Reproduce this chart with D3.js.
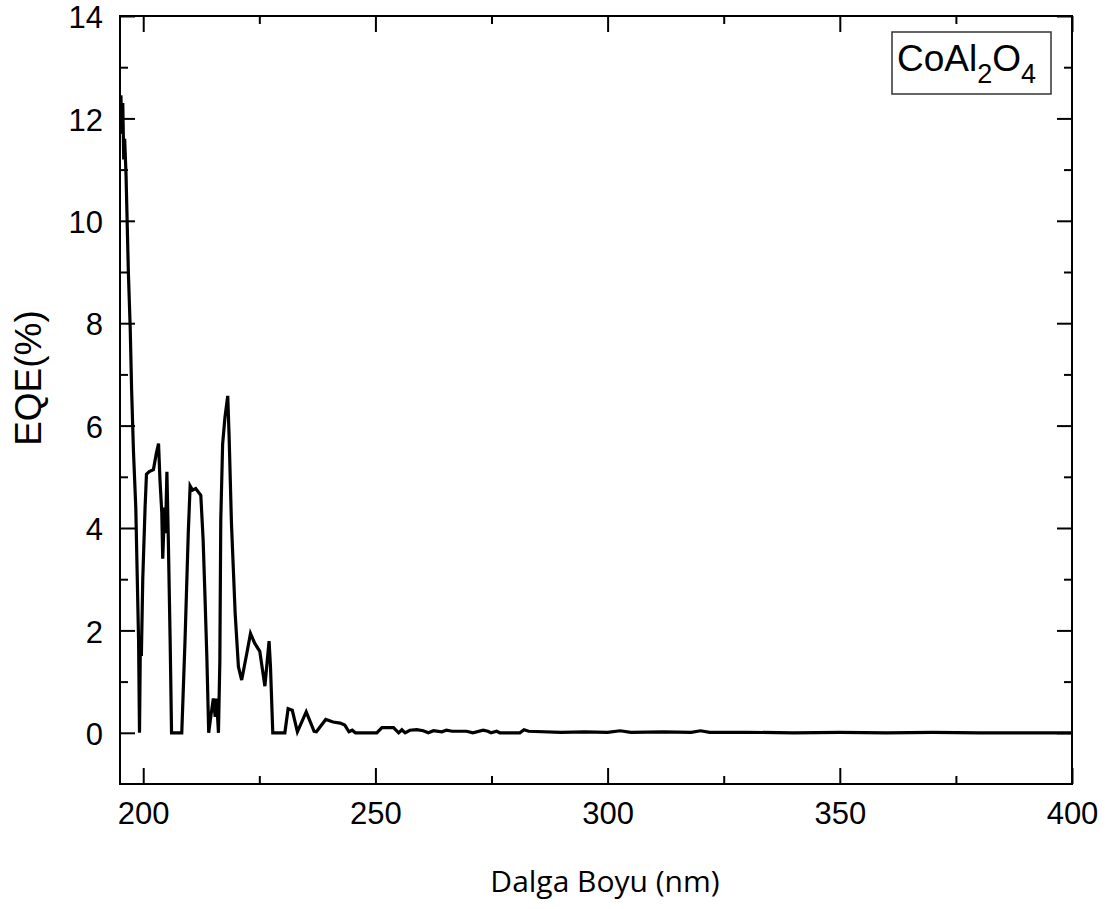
<!DOCTYPE html>
<html>
<head>
<meta charset="utf-8">
<script src="https://cdn.jsdelivr.net/npm/d3@7"></script>
<style>
  html, body { margin: 0; padding: 0; background: #fff; }
  svg { display: block; }
  .tick text { font-family: "Liberation Sans", Arial, sans-serif; font-size: 31px; fill: #000; }
</style>
</head>
<body>
<svg id="chart" width="1111" height="909"></svg>
<script>
// Wavelength (nm) and external quantum efficiency (%) for CoAl2O4
const wavelength = [
  195.2, 195.4, 195.6, 195.8, 196.0, 196.3, 196.8, 197.2, 197.5, 197.9,
  198.4, 198.7, 199.0, 199.2, 199.4, 199.6, 199.9, 200.4, 200.7, 201.3,
  202.2, 202.8, 203.3, 203.6, 204.0, 204.2, 204.6, 204.8, 205.1, 205.4,
  205.8, 206.1, 208.3, 209.0, 209.7, 210.1, 210.6, 211.3, 212.4, 212.9,
  213.3, 213.7, 214.1, 214.6, 215.1, 215.5, 215.8, 216.2, 216.5, 216.7,
  217.1, 217.6, 218.2, 218.5, 219.0, 219.8, 220.5, 221.2, 222.3, 223.1,
  224.0, 225.1, 226.2, 227.1, 227.4, 227.9, 230.5, 231.2, 232.1, 233.2,
  235.1, 236.8, 237.3, 239.3, 240.9, 242.4, 243.4, 244.3, 245.0, 245.7,
  250.3, 251.4, 253.9, 255.0, 255.7, 256.4, 257.4, 258.9, 260.3, 261.4,
  262.5, 264.3, 265.3, 266.5, 269.6, 271.0, 273.2, 274.2, 274.9, 276.1,
  276.8, 281.1, 282.0, 283.0, 290.0, 295.0, 300.0, 302.7, 305.0, 312.0,
  318.0, 320.0, 322.0, 330.0, 340.0, 350.0, 360.0, 370.0, 380.0, 390.0,
  400.0
];
const eqe = [
  12.45, 11.7, 12.3, 11.2, 11.6, 10.9, 9.0, 7.9, 6.7, 5.5,
  4.4, 3.1, 1.8, 0, 1.9, 1.5, 3.0, 4.4, 5.05, 5.1,
  5.14, 5.45, 5.65, 4.95, 4.3, 3.4, 4.4, 3.9, 5.1, 3.8,
  1.8, 0, 0, 1.8, 3.9, 4.82, 4.74, 4.77, 4.64, 3.77,
  2.66, 1.49, 0, 0.35, 0.67, 0.31, 0.67, 0, 1.4, 4.16,
  5.64, 6.16, 6.58, 5.78, 4.09, 2.33, 1.29, 1.03, 1.55, 1.94,
  1.75, 1.59, 0.91, 1.79, 1.30, 0, 0, 0.47, 0.44, 0.02,
  0.41, 0.03, 0.02, 0.26, 0.21, 0.19, 0.15, 0.02, 0.05, 0,
  0, 0.10, 0.10, 0, 0.06, 0, 0.05, 0.06, 0.04, 0,
  0.04, 0.02, 0.05, 0.03, 0.03, 0, 0.05, 0.03, 0, 0.03,
  0, 0, 0.06, 0.03, 0.01, 0.02, 0.01, 0.04, 0.01, 0.02,
  0.01, 0.04, 0.01, 0.01, 0, 0.01, 0, 0.01, 0, 0,
  0
];
const xMajorTicks = [200, 250, 300, 350, 400];
const xMinorTicks = [225, 275, 325, 375];
const yMajorTicks = [0, 2, 4, 6, 8, 10, 12, 14];
const yMinorTicks = [1, 3, 5, 7, 9, 11, 13];
const xTitle = "Dalga Boyu (nm)";
const yTitle = "EQE(%)";

const svg = d3.select("#chart");
const plotLeft = 120, plotRight = 1072, plotTop = 16, plotBottom = 784;
const W = plotRight - plotLeft, H = plotBottom - plotTop;

const x = d3.scaleLinear().domain([195, 400]).range([0, W]);
const y = d3.scaleLinear().domain([-1, 14]).range([H, 0]);

const g = svg.append("g").attr("transform", `translate(${plotLeft},${plotTop})`);

// Frame axes: major and minor ticks point inward on all four sides
function styleAxis(sel) {
  sel.select(".domain").remove();
  sel.selectAll(".tick line").attr("stroke", "#000").attr("stroke-width", 2);
}
g.append("g").attr("transform", `translate(0,${H})`)
  .call(d3.axisBottom(x).tickValues(xMajorTicks).tickSizeInner(-16).tickSizeOuter(0).tickPadding(18).tickFormat(d3.format("d")))
  .call(styleAxis);
g.append("g").attr("transform", `translate(0,${H})`)
  .call(d3.axisBottom(x).tickValues(xMinorTicks).tickSizeInner(-8).tickSizeOuter(0).tickFormat(""))
  .call(styleAxis);
g.append("g")
  .call(d3.axisTop(x).tickValues(xMajorTicks).tickSizeInner(-16).tickSizeOuter(0).tickFormat(""))
  .call(styleAxis);
g.append("g")
  .call(d3.axisTop(x).tickValues(xMinorTicks).tickSizeInner(-8).tickSizeOuter(0).tickFormat(""))
  .call(styleAxis);
g.append("g")
  .call(d3.axisLeft(y).tickValues(yMajorTicks).tickSizeInner(-15).tickSizeOuter(0).tickPadding(17).tickFormat(d3.format("d")))
  .call(styleAxis)
  .call(sel => sel.selectAll(".tick text").attr("dy", "0.38em"));
g.append("g")
  .call(d3.axisLeft(y).tickValues(yMinorTicks).tickSizeInner(-8).tickSizeOuter(0).tickFormat(""))
  .call(styleAxis);
g.append("g").attr("transform", `translate(${W},0)`)
  .call(d3.axisRight(y).tickValues(yMajorTicks).tickSizeInner(-15).tickSizeOuter(0).tickFormat(""))
  .call(styleAxis);
g.append("g").attr("transform", `translate(${W},0)`)
  .call(d3.axisRight(y).tickValues(yMinorTicks).tickSizeInner(-8).tickSizeOuter(0).tickFormat(""))
  .call(styleAxis);

g.append("rect").attr("x", 0).attr("y", 0).attr("width", W).attr("height", H)
  .attr("fill", "none").attr("stroke", "#000").attr("stroke-width", 2);

// Spectrum curve
const pts = wavelength.map((w, i) => [w, eqe[i]]);
const line = d3.line().x(d => x(d[0])).y(d => y(d[1]));
g.append("path").datum(pts)
  .attr("d", line)
  .attr("fill", "none")
  .attr("stroke", "#000")
  .attr("stroke-width", 3.2)
  .attr("stroke-linejoin", "miter");

// Axis titles
svg.append("text")
  .attr("x", 605).attr("y", 892)
  .attr("text-anchor", "middle")
  .style("font-family", "'Open Sans', 'Noto Sans', sans-serif")
  .style("font-size", "30px")
  .text(xTitle);
svg.append("text")
  .attr("transform", "translate(41,378) rotate(-90)")
  .attr("text-anchor", "middle")
  .style("font-family", "'Liberation Sans', Arial, sans-serif")
  .style("font-size", "37px")
  .text(yTitle);

// Sample label box
svg.append("rect")
  .attr("x", 892).attr("y", 32).attr("width", 159).attr("height", 62)
  .attr("fill", "#fff").attr("stroke", "#333").attr("stroke-width", 1.5);
const lbl = svg.append("text")
  .attr("x", 897).attr("y", 71)
  .style("font-family", "'Liberation Sans', Arial, sans-serif")
  .style("font-size", "37px");
lbl.append("tspan").text("CoAl");
lbl.append("tspan").attr("dy", 12).style("font-size", "27px").text("2");
lbl.append("tspan").attr("dy", -12).text("O");
lbl.append("tspan").attr("dy", 12).style("font-size", "27px").text("4");
</script>
</body>
</html>
